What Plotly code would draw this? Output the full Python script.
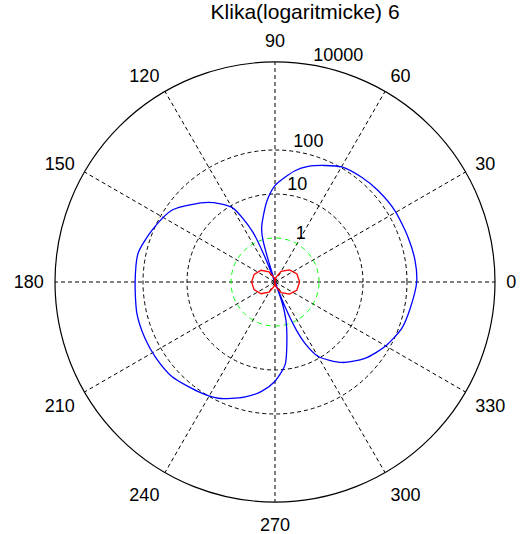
import numpy as np
import plotly.graph_objects as go

# ---- data (radial values in linear units, shown on a log scale) ----
blue_theta = [0, 8.7, 18.5, 30.8, 41.6, 50.2, 59.9, 66.8, 74, 79.8, 90, 95.6, 100.5, 104, 106, 107,
              108, 111, 112, 114, 120, 130, 145, 157, 168, 180, 193, 203.5, 212, 222.5, 235, 244,
              255, 263, 270, 277, 282, 286, 289, 290, 291, 292, 294, 296, 300, 309.8, 319.6, 329.6,
              339.9, 348.9, 360]
blue_r = [166, 166, 155, 148, 135, 123, 105, 76, 54, 37, 15.5, 7.2, 3.1, 1.8, 1.0, 0.4,
          0.05, 0.05, 0.4, 1.8, 9.1, 23, 71, 107, 151, 151, 166, 166, 162, 151, 110, 87,
          51, 32, 18, 7.8, 2.0, 0.8, 0.32, 0.05, 0.05, 0.4, 1.6, 3.5, 8.9, 24, 48, 79,
          117, 135, 166]

red_theta = [0, 20, 40, 60, 80, 90, 100, 120, 140, 160, 180, 200, 220, 240, 260, 270, 280,
             300, 320, 340, 360]
red_r = [0.363, 0.339, 0.269, 0.19, 0.126, 0.05, 0.125, 0.185, 0.26, 0.32, 0.34, 0.32, 0.26,
         0.185, 0.125, 0.05, 0.126, 0.19, 0.269, 0.339, 0.363]

unit_level = 1.0                       # green reference circle
ring_values = [10, 100]                # dashed grid rings
radial_tick_values = [1, 10, 100, 10000]
radial_tick_labels = ["1", "10", "100", "10000"]
angle_ticks = list(range(0, 360, 30))
angle_labels = [str(a) for a in angle_ticks]
title_text = "Klika(logaritmicke) 6"


def to_plot(vals):
    v = np.log10(np.asarray(vals, dtype=float)) + 1.0
    return np.clip(v, 0, None)


FONT = "Liberation Sans, Arial, sans-serif"
fig = go.Figure()

circle_theta = np.arange(0, 361, 2)
fig.add_trace(go.Scatterpolar(
    r=to_plot([unit_level] * len(circle_theta)), theta=circle_theta, mode="lines",
    line=dict(color="#00ff00", width=1, dash="5px,4px"), hoverinfo="skip"))

fig.add_trace(go.Scatterpolar(
    r=to_plot(blue_r), theta=blue_theta, mode="lines",
    line=dict(color="#0000ff", width=1.3, shape="spline", smoothing=0.7)))

fig.add_trace(go.Scatterpolar(
    r=to_plot(red_r), theta=red_theta, mode="lines",
    line=dict(color="#ff0000", width=1.3)))

label_theta = [62, 82, 82, 80]
fig.add_trace(go.Scatterpolar(
    r=to_plot(radial_tick_values), theta=label_theta, mode="text",
    text=radial_tick_labels, textposition="top right", cliponaxis=False,
    textfont=dict(family=FONT, size=18, color="black"), hoverinfo="skip"))

fig.update_layout(
    width=526, height=534,
    margin=dict(l=0, r=0, t=0, b=0, pad=0, autoexpand=False),
    paper_bgcolor="white",
    showlegend=False,
    title=dict(text=title_text, x=0.58, xanchor="center", y=1 - 12 / 534, yanchor="middle",
               font=dict(family=FONT, size=21, color="black")),
    polar=dict(
        domain=dict(x=[55 / 526, 495 / 526], y=[32 / 534, 472 / 534]),
        bgcolor="white",
        radialaxis=dict(range=[0, 5], tickvals=list(to_plot(ring_values)), showticklabels=False,
                        showgrid=True, gridcolor="black", griddash="4px,3px", gridwidth=1,
                        showline=False, ticks=""),
        angularaxis=dict(tickvals=angle_ticks, ticktext=angle_labels, direction="counterclockwise",
                         rotation=0, showgrid=True, gridcolor="black", griddash="4px,3px",
                         gridwidth=1, showline=True, linecolor="black", linewidth=1.2,
                         ticks="outside", ticklen=7, tickcolor="rgba(0,0,0,0)",
                         tickfont=dict(family=FONT, size=18, color="black")),
    ),
)

fig.write_html("out.html", config={"displayModeBar": False},
               post_script="document.body.style.margin='0';document.body.style.overflow='hidden';")
